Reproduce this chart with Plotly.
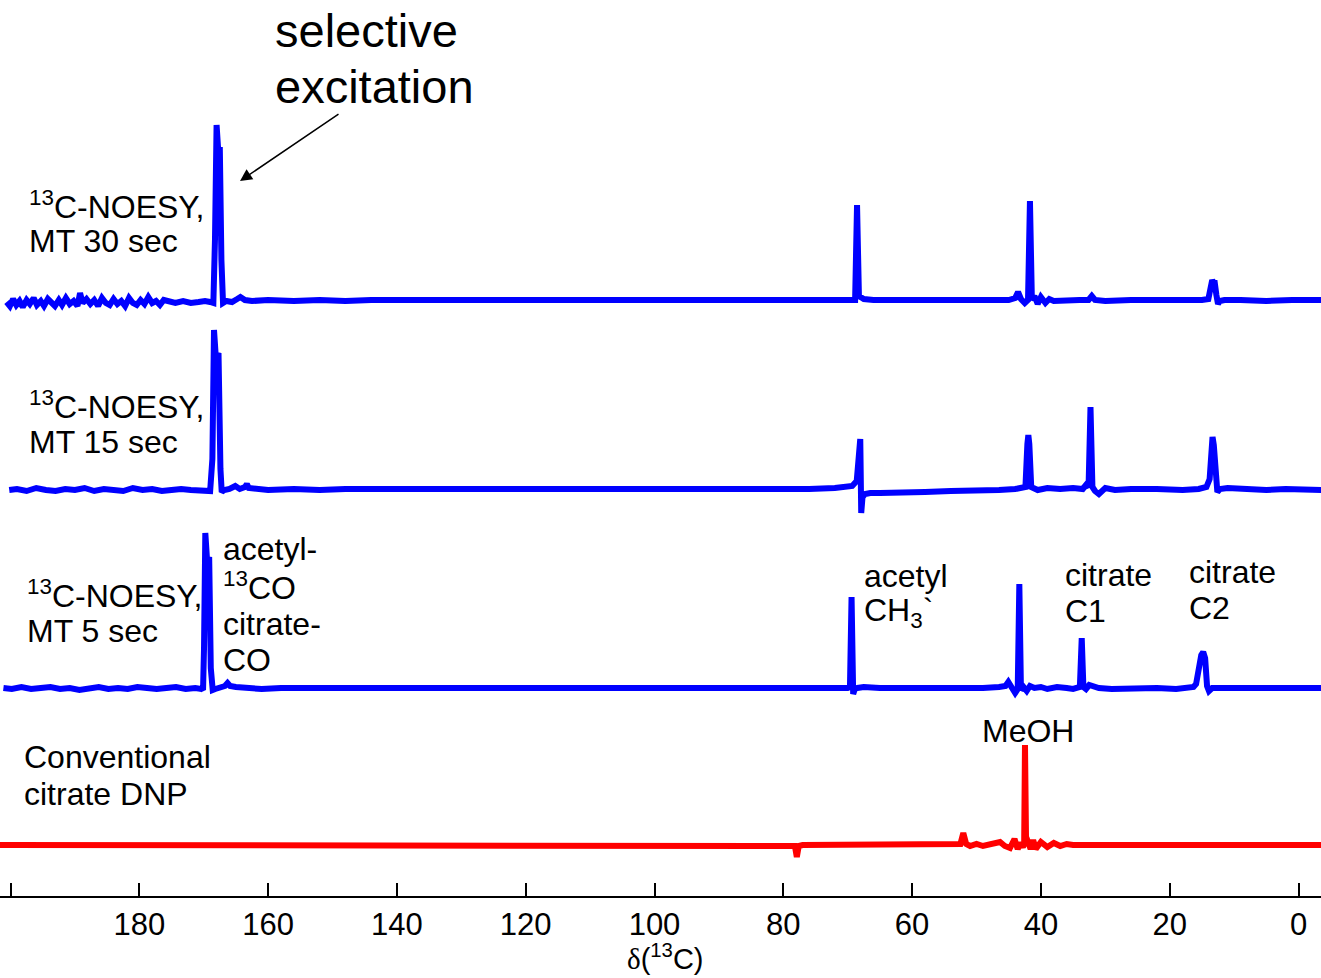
import plotly.graph_objects as go

# ---------------- data ----------------
# 13C-NOESY, mixing time 30 s
ppm_mt30 = [200.6, 200.1, 199.6, 199.1, 198.6, 198.1, 197.5, 197.0, 196.4, 195.9,
            195.3, 194.8, 194.2, 193.6, 193.1, 192.5, 192.0, 191.4, 190.8, 190.2,
            189.6, 189.2, 188.8, 188.2, 187.6, 187.0, 186.4, 185.8, 185.2, 184.6,
            184.0, 183.4, 182.8, 182.2, 181.6, 181.0, 180.4, 179.8, 179.2, 178.6,
            178.0, 177.4, 176.8, 176.2,
            175.4, 174.4, 173.2, 172.0, 170.8, 169.8, 169.0, 168.5, 168.25, 168.0,
            167.75, 167.5, 167.25, 167.0, 166.5, 165.6, 164.8, 164.3, 163.6, 162.5,
            160.0, 156.0, 152.0, 148.0, 144.0, 140.0, 136.0, 132.0, 128.0, 124.0,
            120.0, 116.0, 112.0, 108.0, 104.0, 100.0, 96.0, 92.0, 88.0, 84.0,
            80.0, 76.0, 72.0,
            70.0, 69.0, 68.85, 68.55, 68.25, 68.0, 67.5, 66.0,
            62.0, 58.0, 54.0, 50.0, 47.0, 45.0, 44.0, 43.55, 43.1, 42.5,
            42.0, 41.7, 41.4, 41.0, 40.5, 40.0, 39.3, 38.7, 38.0, 36.0,
            34.0, 32.6, 32.1, 31.6, 30.0,
            26.0, 22.0, 18.0, 15.0, 14.0, 13.7, 13.4, 13.2, 13.0, 12.75,
            12.5, 12.2, 11.5, 9.0, 5.0, 1.0, -2.0, -4.0]
int_mt30 = [-2, -6, 1, -5, -1, -7, 0, -4, 2, -5,
            -1, -6, 1, -3, -6, 0, -5, 2, -4, -1,
            -6, 7, -3, 1, -4, 0, -6, 2, -3, -5,
            1, -4, -1, -6, 2, -3, -5, 0, -4, 3,
            -3, -1, -5, 0,
            -2, -3, -1, -3, -2, -1, -2, -3, 60, 175,
            150, 153, 40, -3, -1, -2, 1, 3, 0, -1,
            0, -1, 0, -1, 0, 0, -1, 0, -1, 0,
            0, -1, 0, 0, -1, 0, 0, -1, 0, 0,
            -1, 0, 0,
            0, -1, 0, 95, 2, 3, 1, 0,
            0, -1, 0, 0, -1, 0, 2, 8, 1, -3,
            0, 99, 0, 4, -4, 3, -3, 1, -1, 0,
            0, 0, 4, 0, -1,
            0, 0, -1, 0, 1, 10, 20, 17, 17, 5,
            -4, -1, 0, 0, -1, 0, 0, 0]

# 13C-NOESY, mixing time 15 s
ppm_mt15 = [200.2, 199.0, 197.5, 196.0, 194.5, 193.0, 191.5, 190.0, 188.5, 187.0,
            185.5, 184.0, 182.5, 181.0, 179.5, 178.0, 176.5, 175.0, 173.5, 172.0,
            170.5, 169.5,
            169.0, 168.65, 168.4, 168.1, 167.7, 167.4, 167.2, 166.8, 166.0, 165.1,
            164.4, 163.6, 163.3, 163.0, 162.0, 160.0,
            156.0, 152.0, 148.0, 144.0, 140.0, 136.0, 132.0, 128.0, 124.0, 120.0,
            116.0, 112.0, 108.0, 104.0, 100.0, 96.0, 92.0, 88.0, 84.0, 80.0,
            76.0, 72.0, 70.0,
            69.3, 68.6, 68.25, 68.05, 67.9, 67.7, 67.3, 66.5, 65.0, 62.0,
            58.0, 54.0, 50.0, 46.5, 44.0,
            43.0, 42.4, 42.1, 41.95, 41.8, 41.5, 40.5, 39.0, 37.0, 35.0,
            33.5, 33.0, 32.6, 32.3, 32.0, 31.6, 31.0, 30.0, 28.5, 26.0,
            22.0, 18.0, 15.5, 14.3,
            13.8, 13.55, 13.35, 13.15, 12.9, 12.6, 12.2, 11.0, 8.0, 5.0,
            2.0, -1.0, -4.0]
int_mt15 = [-1, 0, -2, 1, -1, -2, 0, -1, 1, -2,
            0, -1, -2, 1, -1, 0, -2, -1, 0, -1,
            -1, -2,
            -2, 30, 159, 130, 136, 20, -3, -1, 0, 3,
            0, 2, 5, 1, 0, -1,
            0, -1, 0, 0, -1, 0, 0, -1, 0, 0,
            -1, 0, 0, 0, -1, 0, 0, 0, -1, 0,
            0, 1, 2,
            3, 8, 30, 50, -24, -8, -5, -4, -4, -3,
            -3, -2, -2, -1, 0,
            1, 2, 45, 54, 45, 2, -1, 1, 0, 1,
            0, 4, 2, 82, 2, -2, -5, 1, -1, 0,
            0, -1, 0, 2,
            10, 48, 52, 44, 8, -3, 0, 1, 0, -1,
            0, 0, -1]

# 13C-NOESY, mixing time 5 s
ppm_mt5 = [201.1, 199.8, 198.3, 196.8, 195.3, 193.8, 192.3, 190.8, 189.3, 187.8,
           186.3, 184.8, 183.3, 181.8, 180.3, 178.8, 177.3, 175.8, 174.3, 172.8,
           171.3, 170.3,
           170.1, 169.95, 169.75, 169.45, 169.15, 168.9, 168.6, 168.2, 167.4, 166.7,
           166.3, 165.9, 165.0, 163.5, 161.0,
           158.0, 154.0, 150.0, 146.0, 142.0, 138.0, 134.0, 130.0, 126.0, 122.0,
           118.0, 114.0, 110.0, 106.0, 102.0, 98.0, 94.0, 90.0, 86.0, 82.0,
           78.0, 74.0, 71.0,
           70.0, 69.65, 69.4, 69.15, 68.9, 68.5, 67.5, 65.0,
           61.0, 57.0, 53.0, 49.0, 46.5, 45.5, 45.06, 44.6, 44.0, 43.6,
           43.35, 43.1, 42.7, 42.2, 41.7, 41.0, 40.0, 39.0, 37.5, 36.0,
           35.0, 33.95, 33.66, 33.4, 33.0, 32.5, 31.0, 29.0, 26.0, 22.0,
           19.0, 17.0, 16.3,
           15.9, 15.4, 15.1, 14.8, 14.5, 14.2, 13.9, 13.4, 12.0, 9.0,
           6.0, 3.0, 0.0, -2.0, -4.0]
int_mt5 = [0, -1, 1, -1, 0, 1, -1, 0, -2, 0,
           1, -1, 0, -1, 1, 0, -1, 0, 1, -1,
           0, -1,
           -2, 40, 155, 125, 131, 20, -2, -1, 0, 2,
           5, 2, 1, 0, -1,
           0, 0, -1, 0, 0, -1, 0, 0, 0, -1,
           0, 0, -1, 0, 0, -1, 0, 0, -1, 0,
           0, 0, -1,
           0, 1, 91, -6, -1, 0, 1, 0,
           0, -1, 0, 0, 1, 2, 6, 1, -5, -1,
           104, -2, 1, -3, 2, 0, 1, -1, 1, 0,
           -1, 1, 50, 1, -1, 3, 0, -1, 0, 0,
           -1, 0, 1,
           4, 28, 33, 36, 30, 2, -3, 0, 0, -1,
           0, 0, -1, 0, 0]

# Conventional citrate DNP
ppm_dnp = [202.0, 195.0, 188.0, 181.0, 174.0, 167.0, 160.0, 150.0, 140.0, 130.0,
           120.0, 110.0, 100.0, 90.0, 82.0, 79.0, 78.2, 77.9, 77.6, 77.0,
           74.0, 68.0, 62.0, 56.0, 53.5, 52.5, 52.05, 51.6, 51.0, 50.0,
           49.0, 48.0, 47.0, 46.35, 45.6, 44.8, 44.1, 43.6, 43.2, 42.8,
           42.6, 42.47, 42.3, 42.0, 41.6, 41.2, 40.8, 40.0, 39.0, 38.0,
           37.0, 36.0, 35.0, 33.0, 28.0, 20.0, 12.0, 4.0, -4.0]
int_dnp = [0, 0, 0, 0, 0, 0, 0, 0, 0, 0,
           0, 0, 0, 0, 0, 0, -1, -12, -1, 0,
           0, 0, 0, 0, 0, 1, 12, 1, -1, 1,
           -1, 0, 1, 3, -1, -3, 6, -4, 2, -2,
           1, 100, 1, 3, -4, 5, -4, 3, -2, 2,
           -1, 1, 0, 0, 0, 0, 0, 0, 0]

tick_vals = [200, 180, 160, 140, 120, 100, 80, 60, 40, 20, 0]
tick_text = [" ", "180", "160", "140", "120", "100", "80", "60", "40", "20", "0"]

# ---------------- layout helpers ----------------
W, H = 1321, 978
PLOT_H = 896           # plot area height (axis line at bottom)
PPM_PER_PX = 1 / 6.44
X_ZERO = 1298.5        # pixel of 0 ppm
x_range = [X_ZERO * PPM_PER_PX, (X_ZERO - W) * PPM_PER_PX]

offsets = {"mt30": PLOT_H - 300, "mt15": PLOT_H - 489, "mt5": PLOT_H - 688, "dnp": PLOT_H - 845}

for a, b in [(ppm_mt30, int_mt30), (ppm_mt15, int_mt15), (ppm_mt5, int_mt5), (ppm_dnp, int_dnp)]:
    assert len(a) == len(b), (len(a), len(b))

BLUE = "#0000FF"
RED = "#FF0000"
FONT = "Liberation Sans, Arial, Helvetica, sans-serif"

fig = go.Figure()
for ppm, inten, key, col in [(ppm_mt30, int_mt30, "mt30", BLUE),
                             (ppm_mt15, int_mt15, "mt15", BLUE),
                             (ppm_mt5, int_mt5, "mt5", BLUE),
                             (ppm_dnp, int_dnp, "dnp", RED)]:
    fig.add_trace(go.Scatter(x=ppm, y=[v + offsets[key] for v in inten], mode="lines",
                             line=dict(color=col, width=6), hoverinfo="skip", showlegend=False))


def px(X):
    return X / W


def py(Y):
    return 1 - Y / PLOT_H


DX = -3  # annotation inner padding compensation
labels = [
    ("<sup>13</sup>C-NOESY,", 30, 205, 32),
    ("MT 30 sec", 30, 241, 32),
    ("<sup>13</sup>C-NOESY,", 30, 405, 32),
    ("MT 15 sec", 30, 442, 32),
    ("<sup>13</sup>C-NOESY,", 28, 594, 32),
    ("MT 5 sec", 28, 631, 32),
    ("acetyl-", 224, 549, 32),
    ("<sup>13</sup>CO", 224, 586, 32),
    ("citrate-", 224, 624, 32),
    ("CO", 224, 660, 32),
    ("acetyl", 865, 576, 32),
    ("CH<sub>3</sub>`", 865, 612, 32),
    ("citrate", 1066, 575, 32),
    ("C1", 1066, 611, 32),
    ("citrate", 1190, 572, 32),
    ("C2", 1190, 608, 32),
    ("MeOH", 983, 731, 32),
    ("Conventional", 25, 757, 32),
    ("citrate DNP", 25, 794, 32),
    ("selective", 276, 30, 47),
    ("excitation", 276, 86, 47),
]
annotations = []
for txt, X, Y, fs in labels:
    annotations.append(dict(text=txt, x=px(X + DX), y=py(Y), xref="paper", yref="paper",
                            xanchor="left", yanchor="middle", showarrow=False,
                            font=dict(family=FONT, size=fs, color="black")))

# arrow pointing at the selectively excited peak
annotations.append(dict(text="", x=px(240), y=py(181), xref="paper", yref="paper",
                        ax=100, ay=-68, axref="pixel", ayref="pixel", showarrow=True,
                        arrowhead=2, arrowsize=1.6, arrowwidth=1.5, arrowcolor="black",
                        standoff=0))

# axis title
annotations.append(dict(text="<span style='font-family:Liberation Serif'>δ</span>(<sup>13</sup>C)",
                        x=px(665), y=py(977), xref="paper", yref="paper",
                        xanchor="center", yanchor="bottom", showarrow=False,
                        font=dict(family=FONT, size=29, color="black")))

fig.update_layout(
    width=W, height=H,
    margin=dict(l=0, r=0, t=0, b=H - PLOT_H, pad=0),
    paper_bgcolor="white", plot_bgcolor="white",
    xaxis=dict(range=x_range, tickvals=tick_vals, ticktext=tick_text,
               ticks="inside", ticklen=13, tickwidth=1.5, tickcolor="black",
               showline=True, linecolor="black", linewidth=2, mirror=False,
               showgrid=False, zeroline=False,
               tickfont=dict(family=FONT, size=31, color="black")),
    yaxis=dict(range=[0, PLOT_H], visible=False, showgrid=False, zeroline=False),
    annotations=annotations,
)

fig.write_html("out.html", config={"displayModeBar": False},
               post_script="document.body.style.margin='0';document.body.style.overflow='hidden';")
